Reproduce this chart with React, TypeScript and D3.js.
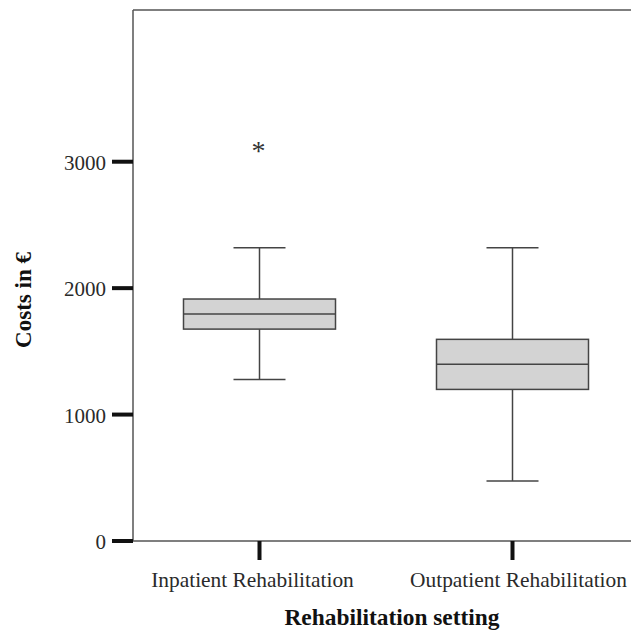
import React, { useEffect, useRef } from 'react';
import * as d3 from 'd3';

// Data
const groups = ['Inpatient Rehabilitation', 'Outpatient Rehabilitation'];
const whiskerLow = [1278, 475];
const q1 = [1676, 1199];
const median = [1795, 1399];
const q3 = [1914, 1595];
const whiskerHigh = [2320, 2320];
const outliers = [[3125], []];
const yTicks = [0, 1000, 2000, 3000];

const App = () => {
  const svgRef = useRef<SVGSVGElement>(null);

  useEffect(() => {
    const width = 631;
    const height = 634;
    const margin = { left: 133, top: 10, bottom: 93 };

    const svg = d3.select(svgRef.current);
    svg.selectAll('*').remove();
    svg.attr('width', width).attr('height', height);

    const serif = '"Liberation Serif", "Times New Roman", serif';

    const y = d3
      .scaleLinear()
      .domain([0, 4200])
      .range([height - margin.bottom, margin.top]);

    const x = d3
      .scaleBand()
      .domain(groups)
      .range([margin.left, margin.left + 506])
      .padding(0);

    const y0 = y(0);
    const boxHalf = 76;
    const capHalf = 26;
    const stroke = '#444';
    // labels sit slightly spread out from the tick marks
    const labelShift = [-7, 6];

    // Frame (left + top), bottom axis line
    svg.append('line').attr('x1', margin.left).attr('x2', margin.left)
      .attr('y1', margin.top).attr('y2', y0)
      .attr('stroke', '#555').attr('stroke-width', 1.5);
    svg.append('line').attr('x1', margin.left).attr('x2', width)
      .attr('y1', margin.top).attr('y2', margin.top)
      .attr('stroke', '#555').attr('stroke-width', 1.5);
    svg.append('line').attr('x1', margin.left).attr('x2', width)
      .attr('y1', y0).attr('y2', y0)
      .attr('stroke', '#555').attr('stroke-width', 1.5);

    // Y ticks
    const yt = svg.append('g');
    yt.selectAll('line')
      .data(yTicks)
      .join('line')
      .attr('x1', margin.left - 21)
      .attr('x2', margin.left)
      .attr('y1', (d) => y(d))
      .attr('y2', (d) => y(d))
      .attr('stroke', '#111')
      .attr('stroke-width', 4);
    yt.selectAll('text')
      .data(yTicks)
      .join('text')
      .attr('x', margin.left - 27)
      .attr('y', (d) => y(d) + 8)
      .attr('text-anchor', 'end')
      .attr('font-family', serif)
      .attr('font-size', '21px')
      .attr('fill', '#2a2a2a')
      .text((d) => d);

    // X ticks + labels
    const cx = (g: string) => (x(g) as number) + x.bandwidth() / 2;
    const xt = svg.append('g');
    xt.selectAll('line')
      .data(groups)
      .join('line')
      .attr('x1', (d) => cx(d))
      .attr('x2', (d) => cx(d))
      .attr('y1', y0)
      .attr('y2', y0 + 19)
      .attr('stroke', '#111')
      .attr('stroke-width', 4);
    xt.selectAll('text')
      .data(groups)
      .join('text')
      .attr('x', (d, i) => cx(d) + labelShift[i])
      .attr('y', 587)
      .attr('text-anchor', 'middle')
      .attr('font-family', serif)
      .attr('font-size', '21.4px')
      .attr('fill', '#2a2a2a')
      .text((d) => d);

    // Boxes
    const boxes = svg
      .selectAll('g.box')
      .data(groups)
      .join('g')
      .attr('class', 'box');

    boxes.append('line')
      .attr('x1', (d) => cx(d)).attr('x2', (d) => cx(d))
      .attr('y1', (d, i) => y(whiskerHigh[i])).attr('y2', (d, i) => y(q3[i]))
      .attr('stroke', stroke).attr('stroke-width', 1.5);
    boxes.append('line')
      .attr('x1', (d) => cx(d)).attr('x2', (d) => cx(d))
      .attr('y1', (d, i) => y(q1[i])).attr('y2', (d, i) => y(whiskerLow[i]))
      .attr('stroke', stroke).attr('stroke-width', 1.5);
    boxes.append('line')
      .attr('x1', (d) => cx(d) - capHalf).attr('x2', (d) => cx(d) + capHalf)
      .attr('y1', (d, i) => y(whiskerHigh[i])).attr('y2', (d, i) => y(whiskerHigh[i]))
      .attr('stroke', stroke).attr('stroke-width', 1.5);
    boxes.append('line')
      .attr('x1', (d) => cx(d) - capHalf).attr('x2', (d) => cx(d) + capHalf)
      .attr('y1', (d, i) => y(whiskerLow[i])).attr('y2', (d, i) => y(whiskerLow[i]))
      .attr('stroke', stroke).attr('stroke-width', 1.5);
    boxes.append('rect')
      .attr('x', (d) => cx(d) - boxHalf)
      .attr('width', boxHalf * 2)
      .attr('y', (d, i) => y(q3[i]))
      .attr('height', (d, i) => y(q1[i]) - y(q3[i]))
      .attr('fill', '#d3d3d3')
      .attr('stroke', stroke)
      .attr('stroke-width', 1.5);
    boxes.append('line')
      .attr('x1', (d) => cx(d) - boxHalf).attr('x2', (d) => cx(d) + boxHalf)
      .attr('y1', (d, i) => y(median[i])).attr('y2', (d, i) => y(median[i]))
      .attr('stroke', stroke).attr('stroke-width', 1.5);

    // Outliers as asterisks
    boxes.each(function (d, i) {
      d3.select(this)
        .selectAll('text')
        .data(outliers[i])
        .join('text')
        .attr('x', cx(d) - 1)
        .attr('y', (v) => y(v) + 14)
        .attr('text-anchor', 'middle')
        .attr('font-family', serif)
        .attr('font-size', '28px')
        .attr('fill', '#333')
        .text('*');
    });

    // Axis titles
    svg.append('text')
      .attr('x', 392)
      .attr('y', 625)
      .attr('text-anchor', 'middle')
      .attr('font-family', serif)
      .attr('font-weight', 'bold')
      .attr('font-size', '23.4px')
      .attr('fill', '#111')
      .text('Rehabilitation setting');

    svg.append('text')
      .attr('transform', 'translate(31, 300) rotate(-90)')
      .attr('text-anchor', 'middle')
      .attr('font-family', serif)
      .attr('font-weight', 'bold')
      .attr('font-size', '23px')
      .attr('fill', '#111')
      .text('Costs in €');
  }, []);

  return (
    <svg
      ref={svgRef}
      style={{ position: 'absolute', left: 0, top: 0, background: '#fff' }}
    ></svg>
  );
};

export default App;
